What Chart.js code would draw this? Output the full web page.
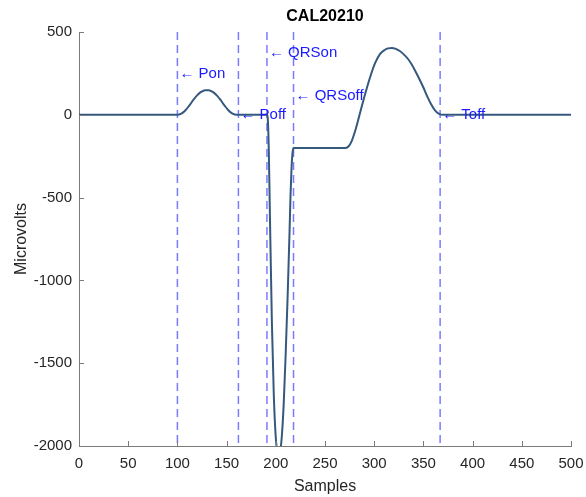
<html>
<head>
    <script src="https://cdn.jsdelivr.net/npm/chart.js@4/dist/chart.umd.min.js"></script>
    <title>CAL20210</title>
    <style>
        body { margin: 0; background: #fff; }
        #wrap { width: 586px; height: 497px; }
    </style>
</head>
<body>
<div id="wrap"><canvas id="ecg-chart" width="586" height="497"></canvas></div>

<script>
    // signal (sample, microvolts)
    var sampleX = [0, 100, 104, 108, 112, 116, 120, 124, 128, 132, 136, 140, 144, 148, 152, 156, 160,
        191, 192, 193, 194, 196, 198, 200, 202, 203, 204, 206, 208, 210, 212, 214, 215, 216, 217, 218,
        271, 274, 277, 281, 286, 291, 296, 301, 306, 311, 314, 318, 322, 326, 330, 334, 338, 342, 346, 350, 354, 358, 362, 366, 370, 500];
    var microvolts = [0, 0, 7, 26, 55, 88, 117, 138, 149, 149, 138, 117, 88, 55, 26, 7, 0,
        0, -40, -250, -600, -1250, -1700, -1950, -2050, -2060, -2050, -1950, -1750, -1450, -1100, -700, -480, -320, -230, -200,
        -200, -190, -160, -90, 20, 130, 230, 313, 368, 393, 401, 404, 398, 385, 365, 340, 305, 262, 215, 165, 110, 62, 25, 6, 0, 0];

    // fiducial markers
    var markerNames = ['Pon', 'Poff', 'QRSon', 'QRSoff', 'Toff'];
    var markerSamples = [100, 162, 191, 218, 367];
    var markerLabelY = [245, 0, 375, 115, 0];

    var xTicks = [0, 50, 100, 150, 200, 250, 300, 350, 400, 450, 500];
    var yTicks = [500, 0, -500, -1000, -1500, -2000];

    var textColor = '#262626';
    var axisColor = '#7a7a7a';

    var datasets = [{
        data: sampleX.map((x, i) => ({x: x, y: microvolts[i]})),
        borderColor: '#34597d',
        borderWidth: 2,
        pointRadius: 0,
        cubicInterpolationMode: 'monotone',
        fill: false
    }];
    markerSamples.forEach(s => {
        datasets.push({
            data: [{x: s, y: 500}, {x: s, y: -2000}],
            borderColor: 'rgba(90, 90, 255, 0.8)',
            borderWidth: 1.5,
            borderDash: [8, 5],
            pointRadius: 0,
            fill: false
        });
    });

    // matlab style: inward ticks, labels, titles
    var matlabAxes = {
        id: 'matlabAxes',
        afterDraw: chart => {
            var ctx = chart.ctx;
            var xs = chart.scales.x, ys = chart.scales.y;
            var area = chart.chartArea;
            ctx.save();
            ctx.strokeStyle = axisColor;
            ctx.lineWidth = 1;
            ctx.beginPath();
            xTicks.forEach(t => {
                var px = Math.round(xs.getPixelForValue(t)) + 0.5;
                ctx.moveTo(px, area.bottom);
                ctx.lineTo(px, area.bottom - 5);
            });
            yTicks.forEach(t => {
                var py = Math.round(ys.getPixelForValue(t)) + 0.5;
                ctx.moveTo(area.left, py);
                ctx.lineTo(area.left + 5, py);
            });
            ctx.stroke();

            // marker labels
            ctx.fillStyle = '#1a1aff';
            ctx.font = '15px "Liberation Sans", Arial, sans-serif';
            ctx.textAlign = 'left';
            ctx.textBaseline = 'middle';
            markerNames.forEach((name, i) => {
                ctx.fillText('\u2190 ' + name, xs.getPixelForValue(markerSamples[i]) + 2, ys.getPixelForValue(markerLabelY[i]));
            });

            // title + axis titles
            var cx = (area.left + area.right) / 2;
            ctx.fillStyle = '#000';
            ctx.textAlign = 'center';
            ctx.font = 'bold 16px "Liberation Sans", Arial, sans-serif';
            ctx.fillText('CAL20210', cx, 17);
            ctx.fillStyle = textColor;
            ctx.font = '16px "Liberation Sans", Arial, sans-serif';
            ctx.fillText('Samples', cx, 487);
            ctx.translate(22, (area.top + area.bottom) / 2);
            ctx.rotate(-Math.PI / 2);
            ctx.fillText('Microvolts', 0, 0);
            ctx.restore();
        }
    };

    var ecgchart = new Chart(document.getElementById('ecg-chart'), {
        type: 'line',
        data: { datasets: datasets },
        plugins: [matlabAxes],
        options: {
            responsive: false,
            animation: false,
            layout: { padding: { left: 0, right: 15, top: 32, bottom: 0 } },
            plugins: {
                legend: { display: false },
                tooltip: { enabled: false }
            },
            scales: {
                x: {
                    type: 'linear',
                    min: 0,
                    max: 500,
                    afterFit: s => { s.height = 51; s.paddingLeft = 0; s.paddingRight = 0; },
                    afterBuildTicks: s => { s.ticks = xTicks.map(v => ({value: v})); },
                    ticks: {
                        padding: 9,
                        color: textColor,
                        callback: v => String(v),
                        font: { size: 15, family: '"Liberation Sans", Arial, sans-serif' }
                    },
                    grid: { drawOnChartArea: false, drawTicks: false },
                    border: { color: axisColor, width: 1 }
                },
                y: {
                    type: 'linear',
                    min: -2000,
                    max: 500,
                    afterFit: s => { s.width = 79; s.paddingTop = 0; s.paddingBottom = 0; },
                    afterBuildTicks: s => { s.ticks = yTicks.map(v => ({value: v})); },
                    ticks: {
                        padding: 7,
                        color: textColor,
                        callback: v => String(v),
                        font: { size: 15, family: '"Liberation Sans", Arial, sans-serif' }
                    },
                    grid: { drawOnChartArea: false, drawTicks: false },
                    border: { color: axisColor, width: 1 }
                }
            }
        }
    });
</script>
</body>
</html>
